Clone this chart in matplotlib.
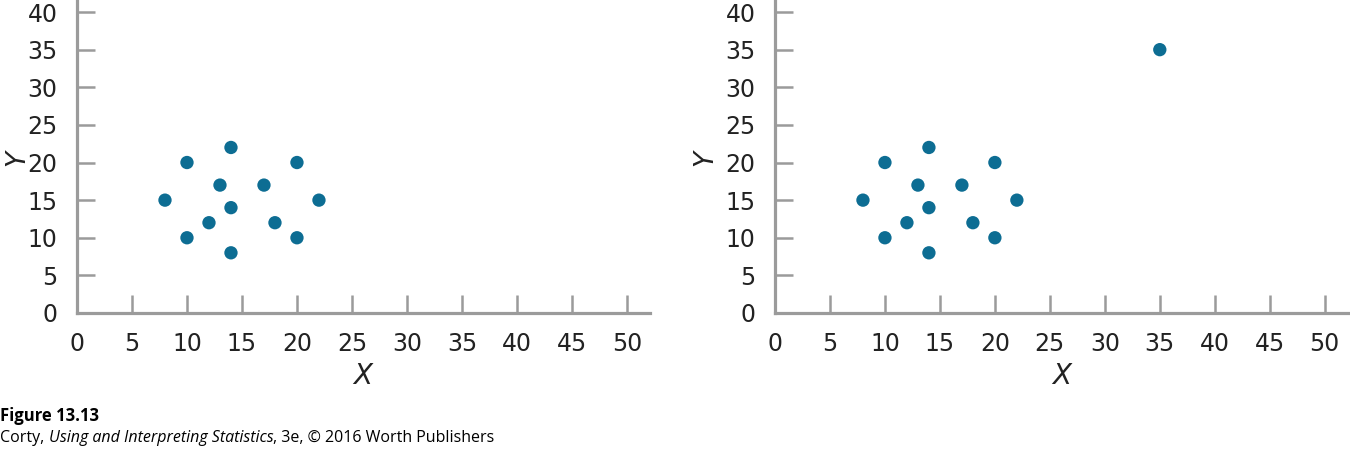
import matplotlib
matplotlib.use("Agg")
import matplotlib.pyplot as plt

# data for the two panels (right panel adds one outlier)
x_left = [8, 10, 10, 12, 13, 14, 14, 14, 17, 18, 20, 20, 22]
y_left = [15, 20, 10, 12, 17, 22, 14, 8, 17, 12, 20, 10, 15]

x_right = x_left + [35]
y_right = y_left + [35]

ticks_x = [0, 5, 10, 15, 20, 25, 30, 35, 40, 45, 50]
ticks_y = [0, 5, 10, 15, 20, 25, 30, 35, 40]

dot_color = "#0d6d93"
axis_color = "#9b9b9b"
tick_font = ["Liberation Sans Narrow", "DejaVu Sans"]

fig = plt.figure(figsize=(13.5, 4.49), dpi=100)
ax1 = fig.add_axes([77 / 1350, 136 / 449, 573 / 1350, 313 / 449])
ax2 = fig.add_axes([775 / 1350, 136 / 449, 575 / 1350, 313 / 449])

for ax, xs, ys, xmax in [(ax1, x_left, y_left, 52.1), (ax2, x_right, y_right, 52.3)]:
    ax.scatter(xs, ys, s=92, color=dot_color, edgecolors="none", zorder=3)
    ax.set_xlim(0, xmax)
    ax.set_ylim(0, 41.6)
    ax.set_xticks(ticks_x)
    ax.set_yticks(ticks_y)
    for side in ["top", "right"]:
        ax.spines[side].set_visible(False)
    for side in ["left", "bottom"]:
        ax.spines[side].set_color(axis_color)
        ax.spines[side].set_linewidth(2.3)
    ax.tick_params(direction="in", length=13, width=1.8, color=axis_color,
                   labelsize=17, labelcolor="#222222", pad=14)
    for lab in ax.get_xticklabels() + ax.get_yticklabels():
        lab.set_family(tick_font)
    ax.set_xlabel("X", fontsize=20, style="italic", family=tick_font, color="#222222")
    ax.set_ylabel("Y", fontsize=19, style="italic", family=tick_font, color="#222222")
    ax.xaxis.set_label_coords(0.499, -0.155)

# left label nudged in so it stays on the canvas
ax1.yaxis.set_label_coords(-47 / 573, 0.495)
ax2.yaxis.set_label_coords(-57 / 575, 0.495)

cap_font = ["Open Sans", "DejaVu Sans"]
fig.text(0.0, 0.054, "Figure 13.13", fontsize=12, weight="bold",
         family=cap_font, va="bottom", ha="left")
c1 = fig.text(0.0, 0.006, "Corty,", fontsize=11.5, family=cap_font, va="bottom", ha="left")
c2 = ax1.annotate("Using and Interpreting Statistics", xy=(1, 0), xycoords=c1,
                  xytext=(3.2, 0), textcoords="offset points", fontsize=11.5,
                  style="italic", family=cap_font, va="bottom", ha="left")
ax1.annotate(", 3e, \u00a9 2016 Worth Publishers", xy=(1, 0), xycoords=c2,
             xytext=(0, 0), textcoords="offset points", fontsize=11.5,
             family=cap_font, va="bottom", ha="left")

fig.savefig("out.png", dpi=100)
